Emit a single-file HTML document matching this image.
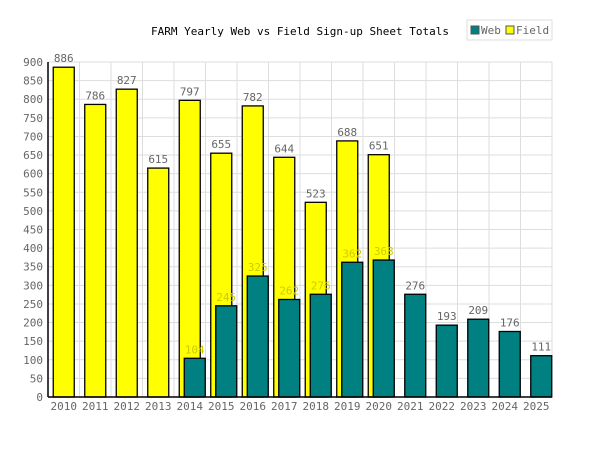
<!DOCTYPE html>
<html><head><meta charset="utf-8"><style>
body{margin:0;background:#fff;}
svg text{font-family:"DejaVu Sans Mono","Liberation Mono",monospace;}
</style></head><body>
<svg id="chart" width="600" height="450" xmlns="http://www.w3.org/2000/svg">
<text x="300" y="35" text-anchor="middle" font-size="11" fill="#000">FARM Yearly Web vs Field Sign-up Sheet Totals</text>
<g>
<rect x="467" y="20" width="85" height="20" fill="#fff" stroke="#ddd"/>
<rect x="471" y="26" width="8" height="8" fill="#008080" stroke="#555"/>
<text x="481" y="34" font-size="11" fill="#666">Web</text>
<rect x="506" y="26" width="8" height="8" fill="#ffff00" stroke="#555"/>
<text x="516" y="34" font-size="11" fill="#666">Field</text>
</g>
<g id="grid"></g><g id="bars"></g><g id="axes"></g>
</svg>
<script>
const categories=["2010","2011","2012","2013","2014","2015","2016","2017","2018","2019","2020","2021","2022","2023","2024","2025"];
const fieldValues=[886,786,827,615,797,655,782,644,523,688,651,null,null,null,null,null];
const webValues=[null,null,null,null,104,245,325,262,276,362,368,276,193,209,176,111];
const yTicks=[0,50,100,150,200,250,300,350,400,450,500,550,600,650,700,750,800,850,900];
const NS="http://www.w3.org/2000/svg";
const L=48,R=552,T=62,B=397,yMax=900;
const bw=(R-L)/categories.length;
const y=v=>B-(v/yMax)*(B-T);
const xc=i=>L+bw*(i+0.5);
function mk(tag,attrs,parent,text){const e=document.createElementNS(NS,tag);for(const k in attrs)e.setAttribute(k,attrs[k]);if(text!==undefined)e.textContent=text;parent.appendChild(e);return e;}
const grid=document.getElementById('grid'),bars=document.getElementById('bars'),axes=document.getElementById('axes');
yTicks.forEach(t=>{
  const g=mk('line',{x1:L,x2:R,y1:y(t),y2:y(t),stroke:'#ddd'},grid);
  
  
  const tx=mk('text',{x:L-5,y:y(t)+4,'text-anchor':'end','font-size':11,fill:'#666'},axes,t);
  
  
});
for(let i=0;i<=categories.length;i++){
  const g=mk('line',{x1:L+bw*i,x2:L+bw*i,y1:T,y2:B,stroke:'#ddd'},grid);
  
  
}
const W=21;
categories.forEach((c,i)=>{
  const f=fieldValues[i];
  if(f!=null){
    const r=mk('rect',{x:xc(i)-W/2,y:y(f),width:W,height:B-y(f),fill:'#ffff00',stroke:'#000','stroke-width':1.3},bars);
    
    
    const t=mk('text',{x:xc(i),y:y(f)-5,'text-anchor':'middle','font-size':11,fill:'#666'},bars,f);
    
    
  }
});
categories.forEach((c,i)=>{
  const w=webValues[i];
  if(w!=null){
    const cx=xc(i)+5;
    const r=mk('rect',{x:cx-W/2,y:y(w),width:W,height:B-y(w),fill:'#008080',stroke:'#000','stroke-width':1.3},bars);
    
    
    const t=mk('text',{x:cx,y:y(w)-5,'text-anchor':'middle','font-size':11,fill:fieldValues[i]!=null?'#cccc00':'#666'},bars,w);
    
    
  }
  const xl=mk('text',{x:xc(i),y:B+13,'text-anchor':'middle','font-size':11,fill:'#666'},axes,c);
  
  
});
const ya=mk('line',{x1:L,x2:L,y1:T,y2:B,stroke:'#000','stroke-width':1.5},axes);


const xa=mk('line',{x1:L,x2:R,y1:B,y2:B,stroke:'#000','stroke-width':1.5},axes);


</script>
</body></html>
